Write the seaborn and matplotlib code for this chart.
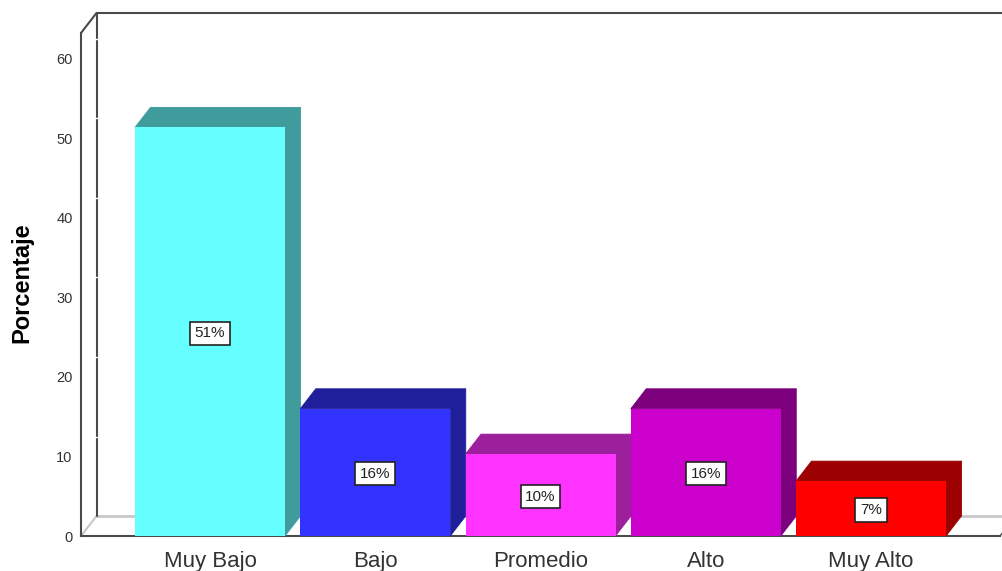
#%% Import Libraries
import pandas as pd
import seaborn as sns
import matplotlib.pyplot as plt
from matplotlib.patches import Polygon

#%% Data
categorias = ["Muy Bajo", "Bajo", "Promedio", "Alto", "Muy Alto"]
porcentajes = [51.4, 16.0, 10.3, 16.0, 6.9]
etiquetas = ["51%", "16%", "10%", "16%", "7%"]
colores_frente = ["#66FFFF", "#3333FF", "#FF33FF", "#CC00CC", "#FF0000"]
colores_lado = ["#409C9C", "#1F1F9C", "#9C1F9C", "#7C007C", "#9C0000"]
ticks_y = [0, 10, 20, 30, 40, 50, 60]

df = pd.DataFrame({"categoria": categorias, "porcentaje": porcentajes})

#%% Layout, in figure pixels
W, H = 1003, 571
x0, x1, y_base, y_top = 81, 1000, 536, 33
paso = 165.25      # px between categories
centro = 210       # px of first category
px_y = 7.95        # px per percent
dx = 15.5 / paso   # 3D depth in data units
dy = 20 / px_y

sns.set_theme(style="white")
plt.rcParams["font.family"] = ["Liberation Sans", "DejaVu Sans"]

fig = plt.figure(figsize=(W / 100, H / 100), dpi=100)
ax = fig.add_axes([x0 / W, 1 - y_base / H, (x1 - x0) / W, (y_base - y_top) / H])

#%% Front faces
sns.barplot(data=df, x="categoria", y="porcentaje", hue="categoria",
            palette=colores_frente, saturation=1, width=150 / paso,
            legend=False, ax=ax, zorder=5, linewidth=0, edgecolor="none")

xmin, xmax = (x0 - centro) / paso, (x1 - centro) / paso
ymax = (y_base - y_top) / px_y
ax.set_xlim(xmin, xmax)
ax.set_ylim(0, ymax)

#%% Walls and floor
oscuro, gris = "#4A4A4A", "#C8C8C8"
ax.plot([xmin, xmin + dx], [0, dy], color=gris, lw=1.5, clip_on=False, zorder=1)
ax.plot([xmin + dx, xmax + 1], [dy, dy], color=gris, lw=2, clip_on=False, zorder=1)
ax.plot([xmax, xmax + dx], [0, dy], color=oscuro, lw=1, clip_on=False, zorder=1)
ax.plot([xmin + dx, xmin + dx], [dy, ymax + dy], color=oscuro, lw=1.5, clip_on=False, zorder=1)
ax.plot([xmin, xmin + dx], [ymax, ymax + dy], color=oscuro, lw=1.5, clip_on=False, zorder=1)
ax.plot([xmin + dx, xmax + 1], [ymax + dy, ymax + dy], color=oscuro, lw=1.5, clip_on=False, zorder=1)
# white nicks on the back wall
for t in ticks_y[1:]:
    ax.plot([xmin + dx - 0.012, xmin + dx + 0.012], [t + dy, t + dy],
            color="white", lw=1, clip_on=False, zorder=2)

#%% Top and side faces plus value boxes
for barra, lado, etiqueta in zip(ax.patches, colores_lado, etiquetas):
    izq, ancho, alto = barra.get_x(), barra.get_width(), barra.get_height()
    der = izq + ancho
    ax.add_patch(Polygon([(izq, alto), (izq + dx, alto + dy), (der + dx, alto + dy), (der, alto)],
                         closed=True, facecolor=lado, edgecolor=lado, linewidth=0.6, zorder=4, clip_on=False))
    ax.add_patch(Polygon([(der, 0), (der + dx, dy), (der + dx, alto + dy), (der, alto)],
                         closed=True, facecolor=lado, edgecolor=lado, linewidth=0.6, zorder=4, clip_on=False))
    ax.text(izq + ancho / 2, alto / 2, etiqueta, ha="center", va="center_baseline", fontsize=11,
            color="#222222", zorder=6,
            bbox=dict(boxstyle="square,pad=0.3", facecolor="white", edgecolor="#222222", linewidth=1.2))

#%% Axes
sns.despine(ax=ax)
ax.spines["left"].set_color(oscuro)
ax.spines["left"].set_linewidth(1.5)
ax.spines["bottom"].set_color(oscuro)
ax.spines["bottom"].set_linewidth(1.5)
ax.set_yticks(ticks_y)
ax.tick_params(axis="y", labelsize=10.5, labelcolor="#333333", color="white", length=3,
               width=1, direction="inout", pad=4.5, left=True)
ax.tick_params(axis="x", labelsize=16, labelcolor="#333333", length=0, pad=22.3)
for marca in ax.yaxis.get_major_ticks():
    marca.tick1line.set_zorder(7)
# same baseline for every category label
for texto in ax.get_xticklabels():
    texto.set_va("baseline")
ax.set_xlabel("")
ax.set_ylabel("Porcentaje", fontsize=17, fontweight="bold", color="black", labelpad=0)
ax.yaxis.set_label_coords((33.5 - x0) / (x1 - x0), (y_base - 283) / (y_base - y_top))

fig.savefig("out.png", dpi=100)
